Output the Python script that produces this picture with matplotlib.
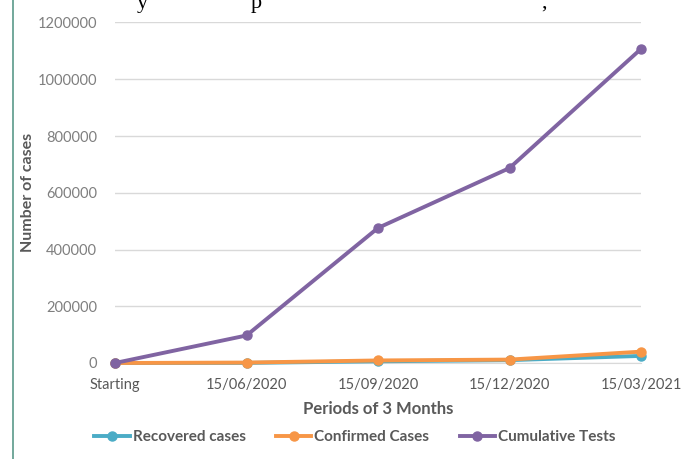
import matplotlib
matplotlib.use('Agg')
import matplotlib.pyplot as plt
from matplotlib.lines import Line2D
from matplotlib.ticker import FuncFormatter

# Data
periods = ['Starting', '15/06/2020', '15/09/2020', '15/12/2020', '15/03/2021']
recovered_cases = [0, 300, 6000, 10000, 25000]
confirmed_cases = [0, 1500, 9000, 12000, 40000]
cumulative_tests = [0, 97000, 476000, 687000, 1107000]

series_names = ['Recovered cases', 'Confirmed Cases', 'Cumulative Tests']
series_colors = ['#4bacc6', '#f79646', '#8064a2']

plt.rcParams['font.family'] = ['Lato', 'DejaVu Sans']

fig = plt.figure(figsize=(6.81, 4.59), dpi=100)
ax = fig.add_axes([115 / 681, 96 / 459, 526 / 681, 340.5 / 459])

x = list(range(len(periods)))
for values, name, color in zip([recovered_cases, confirmed_cases, cumulative_tests],
                               series_names, series_colors):
    ax.plot(x, values, color=color, lw=2.8, marker='o', markersize=6.5,
            label=name, solid_capstyle='round', clip_on=False, zorder=3)

ax.set_xlim(0, len(periods) - 1)
ax.set_ylim(0, 1200000)
ax.set_yticks(range(0, 1200001, 200000))
ax.yaxis.set_major_formatter(FuncFormatter(lambda v, pos: f'{int(v)}'))
ax.set_xticks(x)
ax.set_xticklabels(periods)

# Excel-like styling
ax.grid(axis='y', color='#d9d9d9', lw=1)
ax.set_axisbelow(True)
for side in ['top', 'right', 'left']:
    ax.spines[side].set_visible(False)
ax.spines['bottom'].set_color('#d9d9d9')
ax.tick_params(axis='both', length=0, labelsize=10.5, colors='#595959')
ax.tick_params(axis='y', pad=13, labelcolor='#7f7f7f')
ax.tick_params(axis='x', pad=11)

ax.set_xlabel('Periods of 3 Months', fontsize=12, fontweight='bold', color='#595959', labelpad=6)
ax.set_ylabel('Number of cases', fontsize=11.5, fontweight='bold', color='#595959', labelpad=2)

handles = [Line2D([], [], color=c, lw=2.8, marker='o', markersize=6.5) for c in series_colors]
fig.legend(handles, series_names, loc='center', bbox_to_anchor=(355 / 681, 1 - 437 / 459),
           ncol=3, frameon=False, handlelength=2.3, handletextpad=0.2,
           columnspacing=2.0, prop={'weight': 'bold', 'size': 11},
           labelcolor='#595959')

# page decoration from the source document: left rule and clipped caption above
fig.add_artist(Line2D([13 / 681, 13 / 681], [0, 1], color='#5a9a8a', lw=1.2))
for xpos, ch in [(137, 'y'), (251, 'p'), (541, ',')]:
    fig.text(xpos / 681, 1 - 8 / 459, ch, family='Liberation Serif', fontsize=16,
             va='baseline', ha='left', color='black')

fig.savefig('out.png', dpi=100)
